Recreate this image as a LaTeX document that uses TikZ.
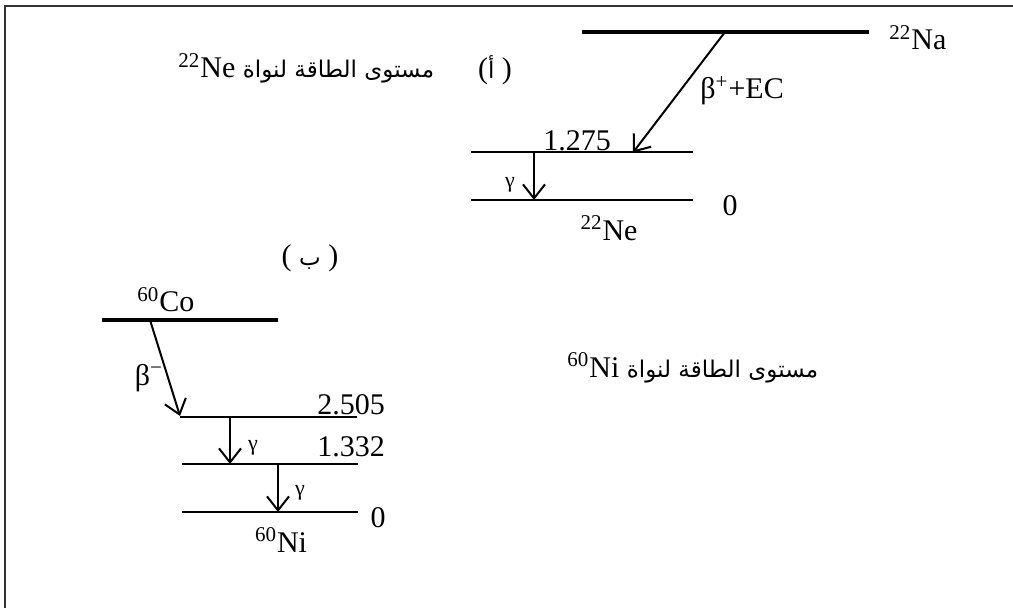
\documentclass[tikz,border=0pt]{standalone}
\usepackage{fontspec}
\setmainfont{Liberation Serif}
\newfontfamily\arabicfont[Script=Arabic]{DejaVu Sans}
\TeXXeTstate=1
\usepackage{tikz}
\usetikzlibrary{arrows.meta}
\definecolor{FrameGrey}{HTML}{333333}
\newcommand{\iso}[2]{\textsuperscript{#1}#2}
\newcommand{\ar}[1]{{\arabicfont\fontsize{11.5}{13}\selectfont\beginR #1\endR}}

\begin{document}
\begin{tikzpicture}[x=0.5pt,y=-0.5pt,>={Straight Barb[length=7pt,width=11pt]},
 lvl/.style={line width=1pt},
 lvlmain/.style={line width=1.75pt},
 decay/.style={->,line width=1pt},
 txt/.style={inner sep=0pt,font=\fontsize{15}{18}\selectfont},
 gam/.style={inner sep=0pt,font=\fontsize{11}{13}\selectfont}]
\useasboundingbox (0,0) rectangle (1013,608);
\draw[FrameGrey,line width=1pt] (4.5,608) -- (4.5,6.5) -- (1013,6.5);
% (a) 22Na -> 22Ne
\coordinate (naL) at (582,32);   \coordinate (naR) at (869,32);
\coordinate (ne1L) at (471,152.5); \coordinate (ne1R) at (693,152.5);
\coordinate (ne0L) at (471,200); \coordinate (ne0R) at (693,200);
\draw[lvlmain] (naL) -- (naR);
\draw[lvl] (ne1L) -- (ne1R);
\draw[lvl] (ne0L) -- (ne0R);
\coordinate (bpS) at (725,32);  \coordinate (bpE) at (633,152.5);
\coordinate (gaS) at (534,152.5); \coordinate (gaE) at (534,200);
\draw[decay] (bpS) -- (bpE);
\draw[decay] (gaS) -- (gaE);
\node[txt,anchor=base west] (na) at (889,50) {\iso{22}{Na}};
\node[txt,anchor=base west] (bp) at (700,99) {β\textsuperscript{+}+EC};
\node[txt,anchor=base west] (e1) at (543,150.5) {1.275};
\node[gam] (ga) at (510,185) {γ};
\node[txt] (z1) at (730,206) {0};
\node[txt] (ne) at (609,228) {\iso{22}{Ne}};
\node[txt] (pa) at (495,70) {(\ar{أ}\ )};
\node[txt,anchor=base west] (tne) at (178,78) {\iso{22}{Ne} \ar{مستوى الطاقة لنواة}};
% (b) 60Co -> 60Ni
\coordinate (coL) at (102,320);  \coordinate (coR) at (278,320);
\coordinate (ni2L) at (180,417); \coordinate (ni2R) at (357,417);
\coordinate (ni1L) at (182,464); \coordinate (ni1R) at (358,464);
\coordinate (ni0L) at (182,512); \coordinate (ni0R) at (358,512);
\draw[lvlmain] (coL) -- (coR);
\draw[lvl] (ni2L) -- (ni2R);
\draw[lvl] (ni1L) -- (ni1R);
\draw[lvl] (ni0L) -- (ni0R);
\coordinate (bmS) at (150,320); \coordinate (bmE) at (180,416);
\coordinate (g1S) at (230,417); \coordinate (g1E) at (230,464);
\coordinate (g2S) at (278,464); \coordinate (g2E) at (278,512);
\draw[decay] (bmS) -- (bmE);
\draw[decay] (g1S) -- (g1E);
\draw[decay] (g2S) -- (g2E);
\node[txt] (pb) at (310,258) {( \ar{ب} )};
\node[txt,anchor=base west] (co) at (137,312) {\iso{60}{Co}};
\node[txt] (bm) at (149,378) {β\textsuperscript{−}};
\node[txt,anchor=base west] (e2) at (317,415) {2.505};
\node[gam] (g1) at (253,448) {γ};
\node[txt,anchor=base west] (e3) at (317,457) {1.332};
\node[gam] (g2) at (300,493) {γ};
\node[txt] (z2) at (378,518) {0};
\node[txt] (ni) at (281,540) {\iso{60}{Ni}};
\node[txt,anchor=west] (tni) at (567,368) {\iso{60}{Ni} \ar{مستوى الطاقة لنواة}};
\end{tikzpicture}
\end{document}
